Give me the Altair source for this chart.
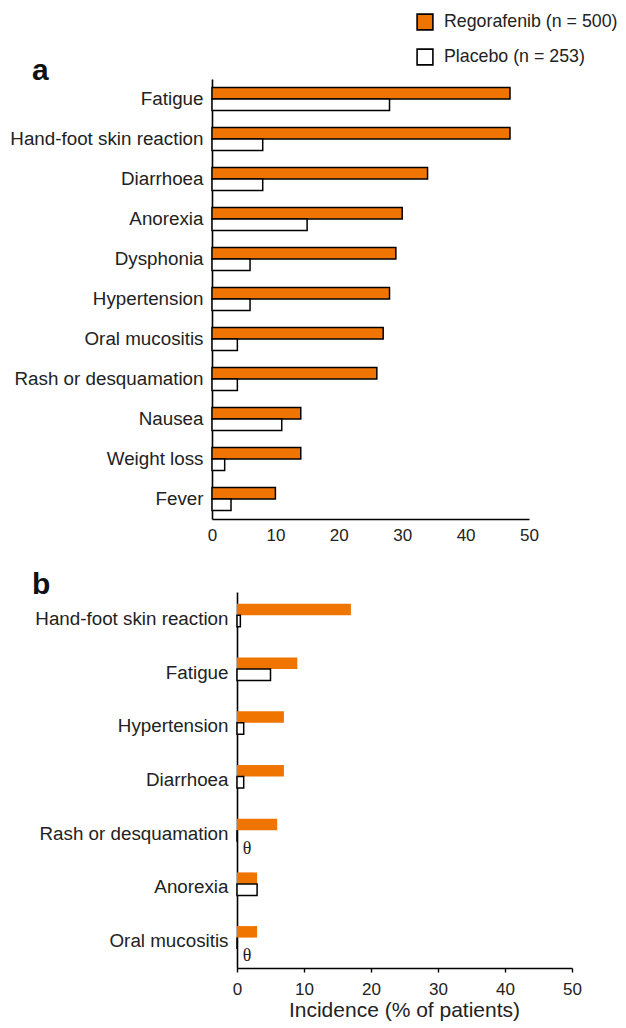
import altair as alt
import pandas as pd

# ---------------- data ----------------
groups = ["Regorafenib (n = 500)", "Placebo (n = 253)"]

a_effects = ["Fatigue", "Hand-foot skin reaction", "Diarrhoea", "Anorexia",
             "Dysphonia", "Hypertension", "Oral mucositis",
             "Rash or desquamation", "Nausea", "Weight loss", "Fever"]
a_rego = [47, 47, 34, 30, 29, 28, 27, 26, 14, 14, 10]
a_placebo = [28, 8, 8, 15, 6, 6, 4, 4, 11, 2, 3]

b_effects = ["Hand-foot skin reaction", "Fatigue", "Hypertension", "Diarrhoea",
             "Rash or desquamation", "Anorexia", "Oral mucositis"]
b_rego = [17, 9, 7, 7, 6, 3, 3]
b_placebo = [0.5, 5, 1, 1, 0, 3, 0]

x_ticks = [0, 10, 20, 30, 40, 50]
x_title = "Incidence (% of patients)"
zero_mark = "θ"
panel_labels = ["a", "b"]

# ---------------- tables ----------------
def long_table(effects, rego, placebo):
    rows = []
    for e, r, p in zip(effects, rego, placebo):
        rows.append({"effect": e, "group": groups[0], "value": r})
        rows.append({"effect": e, "group": groups[1], "value": p})
    return pd.DataFrame(rows)

df_a = long_table(a_effects, a_rego, a_placebo)
df_b = long_table(b_effects, b_rego, b_placebo)

FONT = "Liberation Sans"
INK = "#222222"
ORANGE = "#F07400"
color_scale = alt.Scale(domain=groups, range=[ORANGE, "#FFFFFF"])

legend = alt.Legend(
    title=None, orient="none", legendX=204, legendY=-66,
    symbolType="square", symbolSize=250, symbolStrokeColor="black",
    symbolStrokeWidth=1.6, symbolOpacity=1,
    labelFont=FONT, labelFontSize=17.8, labelColor=INK, labelLimit=400,
    labelOffset=10, rowPadding=11,
)

y_axis_a = alt.Axis(title=None, ticks=False, labelPadding=9, labelFont=FONT,
                    labelFontSize=18.8, labelColor=INK, labelLimit=400,
                    domainColor="black", domainWidth=1.6)
y_axis_b = alt.Axis(title=None, ticks=False, labelPadding=9, labelFont=FONT,
                    labelFontSize=18.8, labelColor=INK, labelLimit=400,
                    domainColor="black", domainWidth=1.6, offset=-25)

x_axis_a = alt.Axis(values=x_ticks, title=None, grid=False, ticks=False,
                    labelPadding=8, labelFont=FONT, labelFontSize=17,
                    labelColor=INK, labelFlush=False,
                    domainColor="black", domainWidth=1.6)
x_axis_b = alt.Axis(values=x_ticks, grid=False, ticks=True, tickSize=4,
                    tickColor="black", tickWidth=1.4, labelPadding=9,
                    labelFont=FONT, labelFontSize=17, labelColor=INK,
                    labelFlush=False, domainColor="black", domainWidth=1.6,
                    title=x_title, titleFont=FONT, titleFontSize=21,
                    titleFontWeight="normal", titleColor=INK,
                    titlePadding=2, titleX=192)

# ---------------- panel a ----------------
bars_a = alt.Chart(df_a).mark_bar(stroke="black", strokeWidth=1.5).encode(
    x=alt.X("value:Q", scale=alt.Scale(domain=[0, 50]), axis=x_axis_a),
    y=alt.Y("effect:N", sort=a_effects,
            scale=alt.Scale(paddingInner=0.425, paddingOuter=0.2125), axis=y_axis_a),
    yOffset=alt.YOffset("group:N", sort=groups),
    color=alt.Color("group:N", sort=groups, scale=color_scale, legend=legend),
)

lab_a = alt.Chart(pd.DataFrame({"t": [panel_labels[0]]})).mark_text(
    font=FONT, fontSize=30, fontWeight="bold", align="left",
    baseline="alphabetic", fill="#111111"
).encode(text="t:N", x=alt.value(-180), y=alt.value(1))

panel_a = alt.layer(bars_a, lab_a).properties(width=317, height=440)

# ---------------- panel b ----------------
# plot area starts at the same x as panel a; the scale range leaves a 25px
# gap so that the zero line (y-axis, offset -25) sits further right.
x_scale_b = alt.Scale(domain=[0, 50], range=[25, 360])

bars_b = alt.Chart(df_b).mark_bar(stroke="black", strokeWidth=1.5).encode(
    x=alt.X("value:Q", scale=x_scale_b, axis=x_axis_b),
    y=alt.Y("effect:N", sort=b_effects,
            scale=alt.Scale(paddingInner=0.44, paddingOuter=0.22), axis=y_axis_b),
    yOffset=alt.YOffset("group:N", sort=groups),
    color=alt.Color("group:N", sort=groups, scale=color_scale, legend=legend),
    strokeOpacity=alt.condition(f"datum.group === '{groups[0]}'",
                                alt.value(0), alt.value(1)),
)

zeros_b = alt.Chart(df_b).transform_filter(
    f"datum.group === '{groups[1]}' && datum.value === 0"
).mark_text(font="Liberation Serif", fontSize=18, dx=10, dy=13,
            fill=INK).encode(
    x=alt.X("value:Q", scale=x_scale_b),
    y=alt.Y("effect:N", sort=b_effects),
    yOffset=alt.YOffset("group:N", sort=groups),
    text=alt.value(zero_mark),
)

lab_b = alt.Chart(pd.DataFrame({"t": [panel_labels[1]]})).mark_text(
    font=FONT, fontSize=30, fontWeight="bold", align="left",
    baseline="alphabetic", fill="#111111"
).encode(text="t:N", x=alt.value(-180), y=alt.value(2))

panel_b = alt.layer(bars_b, zeros_b, lab_b).properties(width=360, height=376)

chart = alt.vconcat(panel_a, panel_b, spacing=25).properties(
    padding={"left": 1, "top": 5, "right": 0, "bottom": 0}
).configure_view(stroke="transparent")

chart.save("out.html", embed_options={"renderer": "svg", "actions": False})
